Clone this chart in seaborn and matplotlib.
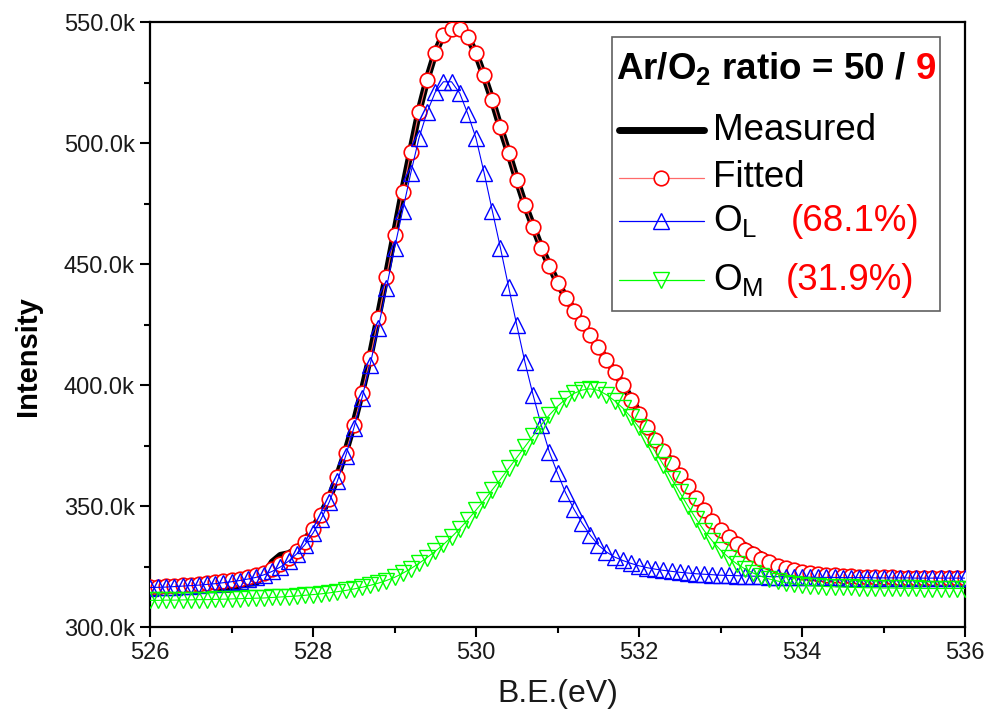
import numpy as np
import matplotlib
matplotlib.use("Agg")
import matplotlib.pyplot as plt
import seaborn as sns
from matplotlib.lines import Line2D
from matplotlib.offsetbox import AnchoredOffsetbox, HPacker, VPacker, TextArea, DrawingArea
from matplotlib.ticker import MultipleLocator, FuncFormatter

# ---- data (intensity in thousands of counts) ----
be = np.round(np.linspace(526.0, 536.0, 101), 1)

measured = [
    316.4, 316.8, 317.0, 316.9, 317.4, 317.6, 317.6, 317.5, 316.8, 315.6,
    315.6, 317.2, 318.0, 318.3, 321.5, 326.8, 329.6, 330.3, 332.2, 335.6,
    340.8, 346.6, 353.3, 362.5, 372.4, 384.0, 397.3, 411.8, 428.4, 445.4,
    462.9, 480.5, 497.0, 513.2, 526.4, 537.4, 544.9, 547.6, 547.3, 543.6,
    537.0, 527.6, 517.6, 506.3, 495.9, 484.9, 474.5, 465.6, 456.8, 449.5,
    442.3, 436.4, 431.0, 425.9, 420.6, 415.6, 410.6, 405.6, 400.3, 394.6,
    388.6, 383.0, 377.8, 372.9, 368.2, 363.4, 358.4, 353.3, 348.6, 344.4,
    340.6, 337.8, 336.0, 333.6, 331.7, 329.8, 328.1, 326.3, 324.8, 323.8,
    323.6, 322.7, 322.0, 321.6, 321.3, 321.1, 320.9, 320.8, 320.6, 320.6,
    320.5, 320.6, 320.4, 320.5, 320.6, 321.0, 320.9, 320.3, 320.1, 320.2,
    320.1]

fitted = [
    316.6, 316.7, 316.9, 317.1, 317.3, 317.5, 317.8, 318.1, 318.5, 318.9,
    319.4, 320.0, 320.7, 321.5, 322.5, 324.0, 326.0, 328.6, 331.5, 335.3,
    340.5, 346.3, 352.8, 362.1, 371.8, 383.5, 396.6, 411.0, 427.5, 444.6,
    462.0, 479.8, 496.3, 512.8, 526.0, 537.2, 544.6, 547.3, 547.0, 543.8,
    537.2, 528.0, 517.8, 506.6, 495.9, 484.7, 474.4, 465.3, 456.6, 449.2,
    442.1, 436.0, 430.5, 425.5, 420.7, 415.5, 410.4, 405.3, 399.9, 394.0,
    388.2, 382.6, 377.4, 372.6, 367.8, 363.0, 358.1, 353.1, 348.2, 343.9,
    340.2, 337.0, 334.3, 332.0, 330.0, 328.2, 326.7, 325.4, 324.4, 323.5,
    322.8, 322.3, 321.9, 321.6, 321.3, 321.1, 320.9, 320.8, 320.7, 320.6,
    320.5, 320.5, 320.4, 320.4, 320.3, 320.3, 320.3, 320.2, 320.2, 320.2,
    320.2]

o_l = [
    316.3, 316.4, 316.5, 316.7, 316.9, 317.1, 317.3, 317.6, 317.9, 318.3,
    318.7, 319.2, 319.8, 320.5, 321.6, 323.0, 324.8, 327.2, 330.2, 334.0,
    338.8, 344.6, 351.7, 360.4, 370.6, 382.1, 394.5, 408.3, 423.4, 440.0,
    456.6, 472.0, 487.6, 502.0, 512.8, 521.0, 525.3, 525.3, 520.6, 512.0,
    502.0, 487.6, 472.0, 456.6, 440.5, 424.8, 409.5, 395.9, 383.5, 372.3,
    363.6, 355.4, 348.8, 343.0, 338.0, 333.9, 331.0, 328.9, 327.5, 326.3,
    325.3, 324.5, 323.9, 323.4, 323.0, 322.6, 322.3, 322.0, 321.8, 321.6,
    321.4, 321.3, 321.2, 321.1, 321.0, 320.9, 320.8, 320.8, 320.7, 320.7,
    320.6, 320.6, 320.5, 320.5, 320.5, 320.4, 320.4, 320.4, 320.4, 320.3,
    320.3, 320.3, 320.3, 320.3, 320.2, 320.2, 320.2, 320.2, 320.2, 320.2,
    320.2]

o_m = [
    311.0, 311.0, 311.1, 311.1, 311.2, 311.2, 311.3, 311.3, 311.4, 311.5,
    311.6, 311.7, 311.8, 311.9, 312.0, 312.2, 312.4, 312.6, 312.8, 313.1,
    313.4, 313.7, 314.1, 314.6, 315.1, 315.7, 316.4, 317.2, 318.1, 319.2,
    320.5, 322.2, 324.1, 326.3, 328.7, 331.3, 334.1, 337.2, 340.6, 344.3,
    348.3, 352.4, 356.7, 361.0, 365.5, 370.0, 374.5, 379.0, 383.5, 387.6,
    391.2, 394.2, 396.5, 397.9, 398.4, 397.8, 396.0, 393.5, 390.5, 386.8,
    382.5, 377.7, 372.5, 367.0, 361.3, 355.6, 350.0, 344.7, 339.8, 335.5,
    331.8, 328.7, 326.1, 324.0, 322.3, 320.9, 319.8, 319.0, 318.3, 317.8,
    317.4, 317.1, 316.9, 316.7, 316.6, 316.5, 316.4, 316.3, 316.2, 316.2,
    316.1, 316.1, 316.0, 316.0, 316.0, 315.9, 315.9, 315.9, 315.9, 315.9,
    315.9]

legend_title = r"Ar/O$_\mathbf{2}$ ratio = 50 /"
legend_title_red = "9"
series_labels = ["Measured", "Fitted", r"O$_\mathrm{L}$", r"O$_\mathrm{M}$"]
percent_labels = ["", "", "(68.1%)", "(31.9%)"]

# ---- style ----
sns.set_theme(style="white")
plt.rcParams['font.family'] = ['Liberation Sans', 'DejaVu Sans']
plt.rcParams['mathtext.fontset'] = 'custom'
plt.rcParams['mathtext.rm'] = 'Liberation Sans'
plt.rcParams['mathtext.it'] = 'Liberation Sans:italic'
plt.rcParams['mathtext.bf'] = 'Liberation Sans:bold'

RED = '#ff0000'
BLUE = '#0000ff'
GREEN = '#00ff00'
MS = 11

fig = plt.figure(figsize=(9.94, 7.24), dpi=100)
fig.patch.set_facecolor('white')
ax = fig.add_axes([150 / 994, 1 - 627 / 724, 815 / 994, 605 / 724])

common = dict(ax=ax, legend=False, estimator=None, sort=False)
sns.lineplot(x=be, y=measured, color='black', linewidth=5, solid_capstyle='round',
             solid_joinstyle='round', zorder=2, **common)
sns.lineplot(x=be, y=fitted, color='#ff6a6a', linewidth=0.8, marker='o', markersize=10.5,
             markerfacecolor='white', markeredgecolor=RED, markeredgewidth=1.2,
             zorder=3, **common)
sns.lineplot(x=be, y=o_l, color=BLUE, linewidth=0.8, marker='^', markersize=MS,
             markerfacecolor='none', markeredgecolor=BLUE, markeredgewidth=1.0,
             zorder=4, **common)
sns.lineplot(x=be, y=o_m, color=GREEN, linewidth=0.8, marker='v', markersize=MS,
             markerfacecolor='none', markeredgecolor=GREEN, markeredgewidth=1.0,
             zorder=5, **common)

ax.set_xlim(526, 536)
ax.set_ylim(300, 550)
ax.xaxis.set_major_locator(MultipleLocator(2))
ax.xaxis.set_minor_locator(MultipleLocator(1))
ax.yaxis.set_major_locator(MultipleLocator(50))
ax.yaxis.set_minor_locator(MultipleLocator(25))
ax.yaxis.set_major_formatter(FuncFormatter(lambda v, p: f"{v:.1f}k"))
ax.xaxis.set_major_formatter(FuncFormatter(lambda v, p: f"{v:.0f}"))

ax.tick_params(which='both', direction='out', width=1.5, color='black',
               bottom=True, left=True, top=False, right=False,
               labelsize=17, labelcolor='#1a1a1a')
ax.tick_params(which='major', length=7, pad=4)
ax.tick_params(which='minor', length=4.5)
for s in ax.spines.values():
    s.set_visible(True)
    s.set_color('black')
    s.set_linewidth(1.6)

ax.set_xlabel("B.E.(eV)", fontsize=23, color='#1a1a1a')
ax.xaxis.set_label_coords(0.5, -0.086)
ax.set_ylabel("Intensity", fontsize=21, fontweight='bold', color='black')
ax.yaxis.set_label_coords(-0.132, 0.448)


# ---- legend box ----
def handle(linecolor, lw, marker=None, mec=None, mfc='none', ms=MS, mew=1.0):
    da = DrawingArea(65, 26, 0, 0)
    da.add_artist(Line2D([2, 63], [13, 13], color=linecolor, lw=lw, solid_capstyle='round'))
    if marker:
        da.add_artist(Line2D([32.5], [13], marker=marker, ms=ms, mfc=mfc, mec=mec,
                             mew=mew, ls='none'))
    return da


def spacer(h):
    return DrawingArea(1, h, 0, 0)


LFS = 26.5
title_row = HPacker(children=[
    TextArea(legend_title, textprops=dict(fontsize=26.5, fontweight='bold', color='black')),
    TextArea(legend_title_red, textprops=dict(fontsize=26.5, fontweight='bold', color=RED)),
], sep=7, pad=0, align='baseline')

handles = [
    handle('black', 5),
    handle('#ff6a6a', 0.9, 'o', RED, 'white', 10.5, 1.2),
    handle(BLUE, 0.9, '^', BLUE),
    handle(GREEN, 0.9, 'v', GREEN),
]
pct_sep = [0, 0, 24, 16]
gaps_after = [18.5, 8, 5, 17, 6.5]   # points, after title and after each row
rows = [spacer(6.5), title_row, spacer(gaps_after[0])]
for i, (h, lab, pct, ps) in enumerate(zip(handles, series_labels, percent_labels, pct_sep)):
    texts = [TextArea(lab, textprops=dict(fontsize=LFS, color='black'))]
    if pct:
        texts.append(TextArea(pct, textprops=dict(fontsize=LFS, color=RED)))
    tp = HPacker(children=texts, sep=ps, pad=0, align='baseline')
    rows.append(HPacker(children=[h, tp], sep=5, pad=0, align='center'))
    rows.append(spacer(gaps_after[i + 1]))

box = VPacker(children=rows, sep=0, pad=0, align='left')
anch = AnchoredOffsetbox(loc='upper right', child=box, pad=0.25, borderpad=0,
                         frameon=True, bbox_to_anchor=((940 - 150) / 815, (627 - 36.7) / 605),
                         bbox_transform=ax.transAxes)
anch.patch.set_edgecolor('#606060')
anch.patch.set_linewidth(1.2)
anch.patch.set_facecolor('white')
anch.set_zorder(10)
ax.add_artist(anch)

fig.savefig("out.png", dpi=100, facecolor='white')
